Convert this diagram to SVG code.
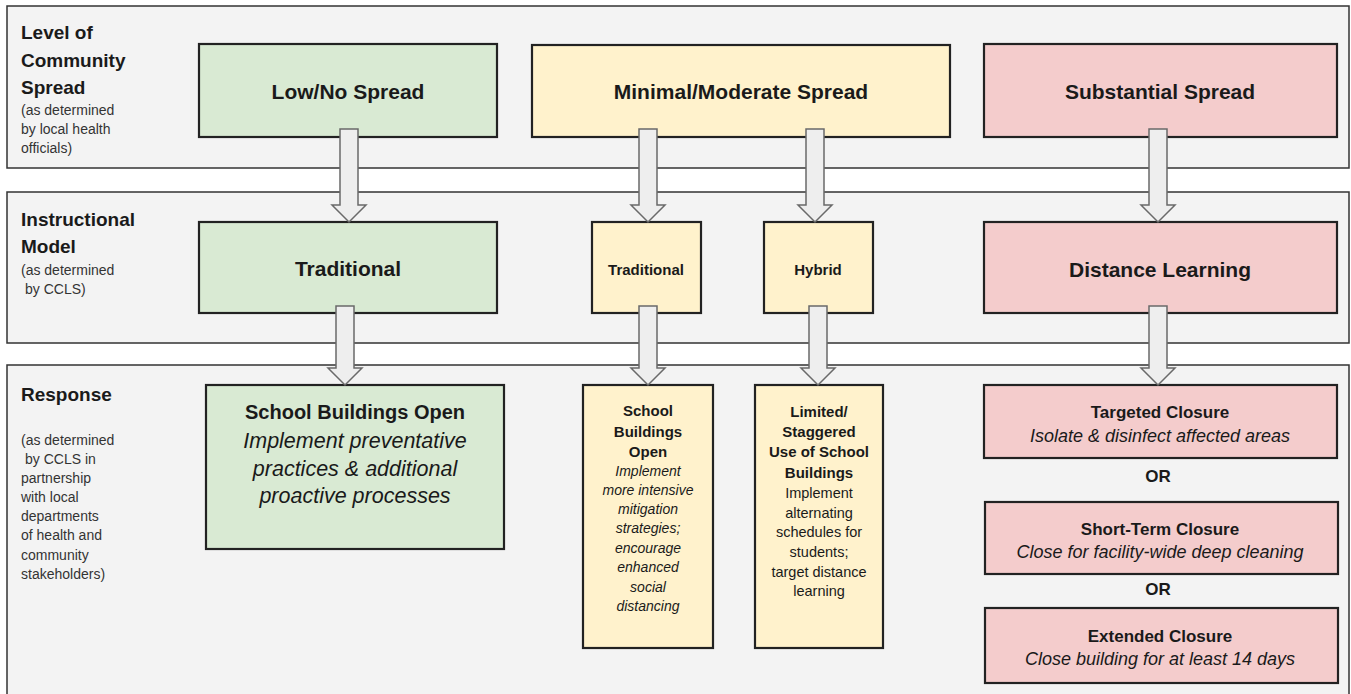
<svg xmlns="http://www.w3.org/2000/svg" width="1351" height="694" viewBox="0 0 1351 694">
<style>
.band{fill:#f3f3f3;stroke:#333;stroke-width:1.5}
.box{stroke:#222;stroke-width:2.2}
.g{fill:#d9ead3}.y{fill:#fff2cc}.p{fill:#f4cccc}
text{font-family:"Liberation Sans",Arial,sans-serif;fill:#1a1a1a}
.hd{font-weight:bold;font-size:19px}
.sm{font-size:14px;fill:#333}
.t{font-weight:bold;font-size:21px;text-anchor:middle}
.b15{font-weight:bold;font-size:15px;text-anchor:middle}
.i14{font-style:italic;font-size:14px;text-anchor:middle}
.r14{font-size:14.5px;text-anchor:middle}
.b17{font-weight:bold;font-size:17px;text-anchor:middle}
.i18{font-style:italic;font-size:18px;text-anchor:middle}
.arr{fill:#eeeeee;stroke:#6a6a6a;stroke-width:1.5}
</style>
<rect width="1351" height="694" fill="#ffffff"/>
<g id="bands">
<rect class="band" x="7" y="6" width="1342" height="162"/>
<rect class="band" x="7" y="192" width="1342" height="151"/>
<rect class="band" x="7" y="365" width="1342" height="340"/>
</g>
<g id="label-level">
<text class="hd" x="21" y="39">Level of</text>
<text class="hd" x="21" y="67">Community</text>
<text class="hd" x="21" y="94">Spread</text>
<text class="sm" x="21" y="115">(as determined</text>
<text class="sm" x="21" y="134"> by local health</text>
<text class="sm" x="21" y="153">officials)</text>
</g>
<g id="label-model">
<text class="hd" x="21" y="226">Instructional</text>
<text class="hd" x="21" y="253">Model</text>
<text class="sm" x="21" y="275">(as determined</text>
<text class="sm" x="25" y="294">by CCLS)</text>
</g>
<g id="label-response">
<text class="hd" x="21" y="401">Response</text>
<text class="sm" x="21" y="445">(as determined</text>
<text class="sm" x="25" y="464">by CCLS in</text>
<text class="sm" x="21" y="483">partnership</text>
<text class="sm" x="21" y="502">with local</text>
<text class="sm" x="21" y="521">departments</text>
<text class="sm" x="21" y="540">of health and</text>
<text class="sm" x="21" y="560">community</text>
<text class="sm" x="21" y="579">stakeholders)</text>
</g>
<g id="low-spread"><rect class="box g" x="199" y="44" width="298" height="93"/><text class="t" x="348" y="99">Low/No Spread</text></g>
<g id="moderate-spread"><rect class="box y" x="532" y="45" width="418" height="92"/><text class="t" x="741" y="99">Minimal/Moderate Spread</text></g>
<g id="substantial-spread"><rect class="box p" x="984" y="44" width="353" height="93"/><text class="t" x="1160" y="99">Substantial Spread</text></g>
<g id="traditional-green"><rect class="box g" x="199" y="222" width="298" height="91"/><text class="t" x="348" y="276">Traditional</text></g>
<g id="traditional-yellow"><rect class="box y" x="592" y="222" width="109" height="91"/><text class="b15" x="646" y="275">Traditional</text></g>
<g id="hybrid"><rect class="box y" x="764" y="222" width="109" height="91"/><text class="b15" x="818" y="275">Hybrid</text></g>
<g id="distance-learning"><rect class="box p" x="984" y="222" width="353" height="91"/><text class="t" x="1160" y="277">Distance Learning</text></g>
<g id="open-green"><rect class="box g" x="206" y="385" width="298" height="164"/>
<text class="t" x="355" y="419" style="font-size:20px">School Buildings Open</text>
<text class="i18" x="355" y="448" style="font-size:21.5px">Implement preventative</text>
<text class="i18" x="355" y="476" style="font-size:21.5px">practices &amp; additional</text>
<text class="i18" x="355" y="503" style="font-size:21.5px">proactive processes</text>
</g>
<g id="open-yellow"><rect class="box y" x="583" y="385" width="130" height="263"/>
<text class="b15" x="648" y="416">School</text>
<text class="b15" x="648" y="437">Buildings</text>
<text class="b15" x="648" y="457">Open</text>
<text class="i14" x="648" y="476">Implement</text>
<text class="i14" x="648" y="495">more intensive</text>
<text class="i14" x="648" y="514">mitigation</text>
<text class="i14" x="648" y="533">strategies;</text>
<text class="i14" x="648" y="553">encourage</text>
<text class="i14" x="648" y="572">enhanced</text>
<text class="i14" x="648" y="592">social</text>
<text class="i14" x="648" y="611">distancing</text>
</g>
<g id="limited-use"><rect class="box y" x="755" y="385" width="128" height="263"/>
<text class="b15" x="819" y="417">Limited/</text>
<text class="b15" x="819" y="437">Staggered</text>
<text class="b15" x="819" y="457">Use of School</text>
<text class="b15" x="819" y="478">Buildings</text>
<text class="r14" x="819" y="498">Implement</text>
<text class="r14" x="819" y="518">alternating</text>
<text class="r14" x="819" y="537">schedules for</text>
<text class="r14" x="819" y="557">students;</text>
<text class="r14" x="819" y="577">target distance</text>
<text class="r14" x="819" y="596">learning</text>
</g>
<g id="targeted-closure"><rect class="box p" x="984" y="385" width="353" height="73"/>
<text class="b17" x="1160" y="418">Targeted Closure</text>
<text class="i18" x="1160" y="442">Isolate &amp; disinfect affected areas</text>
</g>
<g id="or-1"><text class="b17" x="1158" y="482">OR</text></g>
<g id="short-term-closure"><rect class="box p" x="985" y="502" width="353" height="72"/>
<text class="b17" x="1160" y="535">Short-Term Closure</text>
<text class="i18" x="1160" y="558">Close for facility-wide deep cleaning</text>
</g>
<g id="or-2"><text class="b17" x="1158" y="595">OR</text></g>
<g id="extended-closure"><rect class="box p" x="985" y="608" width="353" height="75"/>
<text class="b17" x="1160" y="642">Extended Closure</text>
<text class="i18" x="1160" y="665">Close building for at least 14 days</text>
</g>
<g id="connectors">
<path class="arr" d="M340 129 H358 V205 H366 L349 222 L332 205 H340 Z"/>
<path class="arr" d="M639 129 H657 V205 H665 L648 222 L631 205 H639 Z"/>
<path class="arr" d="M806 129 H824 V205 H832 L815 222 L798 205 H806 Z"/>
<path class="arr" d="M1149 129 H1167 V205 H1175 L1158 222 L1141 205 H1149 Z"/>
<path class="arr" d="M336 306 H354 V368 H362 L345 385 L328 368 H336 Z"/>
<path class="arr" d="M639 306 H657 V368 H665 L648 385 L631 368 H639 Z"/>
<path class="arr" d="M809 306 H827 V368 H835 L818 385 L801 368 H809 Z"/>
<path class="arr" d="M1149 306 H1167 V368 H1175 L1158 385 L1141 368 H1149 Z"/>
</g>
</svg>
